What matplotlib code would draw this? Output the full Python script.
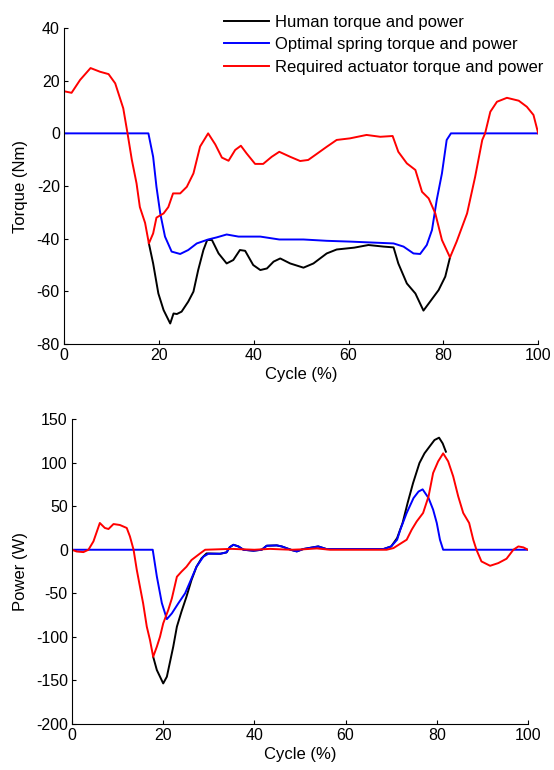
import numpy as np
import matplotlib.pyplot as plt

plt.rcParams['font.family'] = ['Liberation Sans', 'DejaVu Sans']
plt.rcParams['font.size'] = 12
plt.rcParams['axes.unicode_minus'] = False

# --- torque (Nm) vs cycle (%) ---
red_tq_x = [0, 1.6, 3.4, 5.6, 7.6, 9.4, 10.8, 12.5, 13.4, 14.3, 15.3, 16.0, 17.1, 17.9,
            18.8, 19.5, 21.0, 22.0, 23.0, 24.5, 25.9, 27.3, 28.7, 30.4, 31.9, 33.3, 34.7,
            36.1, 37.3, 38.5, 40.3, 42.0, 43.8, 45.4, 47.7, 49.8, 51.5, 53.3, 55.4, 57.5,
            60.3, 63.8, 66.7, 69.3, 70.5, 72.3, 74.1, 75.5, 76.9, 78.3, 79.7, 81.4, 82.8,
            85.0, 86.7, 88.2, 88.8, 89.9, 91.3, 93.4, 95.9, 97.6, 99.0, 100]
red_tq_y = [16.0, 15.4, 20.3, 24.8, 23.4, 22.5, 19.0, 9.5, 0, -10, -19, -28, -34, -41.8,
            -38, -32, -30.4, -28, -22.8, -22.8, -20.3, -15.2, -5, 0, -4.2, -9.2, -10.4,
            -6.3, -4.7, -7.6, -11.6, -11.6, -8.9, -7.0, -8.9, -10.5, -10.1, -7.8, -5.1, -2.5,
            -1.9, -0.6, -1.3, -1.0, -7.0, -11.4, -13.9, -22.2, -24.7, -30.4, -40.5, -47.1, -41.1,
            -30.4, -16.5, -2.5, 0, 8.2, 12.0, 13.5, 12.4, 10.1, 7.0, 0]

blue_tq_x = [0, 17.8, 18.8, 19.5, 20.3, 21.3, 22.7, 24.5, 26.2, 28.0, 30.4, 32.2, 34.3,
             36.8, 41.4, 45.4, 50.5, 55.4, 60.3, 69.5, 71.6, 73.7, 75.1, 76.5, 77.6, 78.6,
             79.7, 80.7, 81.6, 100]
blue_tq_y = [0, 0, -8.9, -20.3, -30.4, -39.2, -44.9, -45.8, -44.3, -41.8, -40.3, -39.5, -38.4,
             -39.2, -39.2, -40.3, -40.3, -40.8, -41.1, -41.8, -43.0, -45.6, -45.8, -42.4, -36.7,
             -25.3, -15.2, -2.5, 0, 0]

black_tq_x = [17.9, 18.8, 19.9, 21.0, 22.4, 23.1, 23.8, 24.8, 26.2, 27.3, 28.3, 29.4, 30.2,
              31.2, 32.6, 34.3, 35.7, 37.1, 38.2, 39.9, 41.4, 42.8, 44.2, 45.6, 47.7, 50.5,
              52.6, 55.4, 57.5, 61.2, 64.2, 67.4, 69.5, 70.5, 72.3, 74.1, 75.8, 77.2, 79.0,
              80.4, 81.4]
black_tq_y = [-41.8, -49.4, -60.8, -67.1, -72.2, -68.4, -68.6, -67.7, -63.9, -60.1, -51.9,
              -44.3, -40.5, -40.5, -45.6, -49.4, -48.1, -44.3, -44.6, -50.0, -51.9, -51.3,
              -48.7, -47.5, -49.4, -51.0, -49.4, -45.6, -44.1, -43.4, -42.4, -43.0, -43.3,
              -49.4, -57.0, -60.8, -67.3, -63.9, -59.5, -54.4, -47.1]

# --- power (W) vs cycle (%) ---
red_pw_x = [0, 1.0, 2.5, 3.6, 4.7, 6.1, 7.2, 8.0, 9.1, 10.5, 12.0, 12.7, 13.5, 14.2, 14.9,
            15.6, 16.4, 17.1, 17.8, 18.6, 19.3, 20.0, 21.1, 21.9, 23.0, 24.0, 25.1, 26.2,
            28.1, 29.2, 35.0, 40.0, 43.4, 45.6, 48.2, 50.7, 53.7, 56.6, 69.0, 70.5, 72.0,
            73.4, 74.5, 75.6, 77.0, 78.2, 79.2, 80.3, 81.4, 82.5, 83.6, 84.7, 85.8, 87.1,
            88.0, 88.7, 89.8, 91.7, 93.5, 95.3, 96.8, 97.9, 99.0, 100]
red_pw_y = [0, -2, -2.7, 0, 9.6, 30.7, 25, 23.8, 29.5, 28.4, 25, 15.3, 0, -23, -42.4,
            -61.6, -88.3, -103.6, -122.8, -111.3, -99.8, -84.5, -69.2, -55.8, -31, -25.2, -19.5, -11.8,
            -4.2, 0, 1, 0, 1, 0.5, 0, 0.5, 1.5, 0, 0, 1.9, 6.9,
            11.5, 23, 32.5, 42.2, 61.3, 88.1, 101.4, 110.6, 101.4, 84.2, 61.3, 42.2, 30.7,
            11.5, 0, -13.4, -18.4, -15.3, -10.3, 0, 3.8, 2.7, 0]

blue_pw_x = [0, 17.7, 18.6, 19.7, 20.8, 21.9, 23.3, 24.8, 25.9, 27.3, 28.8, 29.9, 32.5,
             33.9, 34.6, 35.4, 36.5, 37.6, 39.8, 41.6, 42.7, 44.9, 46.0, 48.2, 49.3, 50.7,
             54.0, 55.8, 68.3, 70.0, 71.3, 72.0, 73.4, 74.9, 76.0, 76.9, 78.2, 79.2, 80.0,
             80.7, 81.4, 100]
blue_pw_y = [0, 0, -30.6, -61.2, -79.6, -73, -61.6, -50, -36.7, -19.5, -8, -4.6, -4.6,
             -3, 3, 5.7, 3.8, 0, -1.1, 0, 4.6, 5, 3.8, -0.4, -1.9, 0.8,
             3.8, 0.8, 0.8, 3.8, 11.5, 23, 42.2, 59.3, 66.8, 69.3, 59.3, 46, 30.7,
             11.5, 0, 0]

black_pw_x = [17.8, 18.6, 19.3, 20.0, 20.8, 21.5, 22.2, 23.0, 24.0, 25.1, 26.2, 27.3, 28.4,
              29.5, 32.5, 33.9, 34.6, 35.4, 36.5, 37.6, 39.8, 41.6, 42.7, 44.9, 46.0, 48.2,
              49.3, 50.7, 54.0, 55.8, 68.3, 70.0, 71.3, 72.5, 73.6, 74.8, 76.2, 77.3, 78.4,
              79.5, 80.5, 81.3, 82.0]
black_pw_y = [-122.8, -138, -145.7, -153.4, -145.7, -128.5, -111.3, -88.3, -71.1, -53.9,
              -34.8, -19.5, -9.9, -4.2, -4.6, -3, 3, 5.7, 3.8, 0, -1.1, 0, 4.6, 5, 3.8,
              -0.4, -1.9, 0.8, 3.8, 0.8, 0.8, 3.8, 13.4, 30.7, 53.6, 76.5, 99.5, 110.6,
              118.3, 125.9, 128.6, 122, 112.5]

labels = ['Human torque and power', 'Optimal spring torque and power',
          'Required actuator torque and power']

fig = plt.figure(figsize=(5.54, 7.70), dpi=100)
ax1 = fig.add_axes([0.1155, 0.5532, 0.856, 0.4104])
ax2 = fig.add_axes([0.130, 0.0597, 0.823, 0.3961])

lw = 1.4
ax1.plot(black_tq_x, black_tq_y, color='black', lw=lw, label=labels[0])
ax1.plot(blue_tq_x, blue_tq_y, color='blue', lw=lw, label=labels[1])
ax1.plot(red_tq_x, red_tq_y, color='red', lw=lw, label=labels[2])
ax1.set_xlim(0, 100)
ax1.set_ylim(-80, 40)
ax1.set_yticks(np.arange(-80, 41, 20))
ax1.set_xlabel('Cycle (%)', labelpad=3)
ax1.set_ylabel('Torque (Nm)', labelpad=6)
ax1.legend(loc='upper left', bbox_to_anchor=(0.3376, 1.042), frameon=False,
           handlelength=2.7, handletextpad=0.35, labelspacing=0.45,
           borderaxespad=0, borderpad=0)

ax2.plot(black_pw_x, black_pw_y, color='black', lw=lw)
ax2.plot(blue_pw_x, blue_pw_y, color='blue', lw=lw)
ax2.plot(red_pw_x, red_pw_y, color='red', lw=lw)
ax2.set_xlim(0, 100)
ax2.set_ylim(-200, 150)
ax2.set_yticks(np.arange(-200, 151, 50))
ax2.set_xlabel('Cycle (%)', labelpad=3)
ax2.set_ylabel('Power (W)', labelpad=6)

for ax in (ax1, ax2):
    ax.spines['top'].set_visible(False)
    ax.spines['right'].set_visible(False)
    ax.tick_params(direction='in', length=3, labelsize=11.5, pad=3)

fig.savefig('out.png', dpi=100)
